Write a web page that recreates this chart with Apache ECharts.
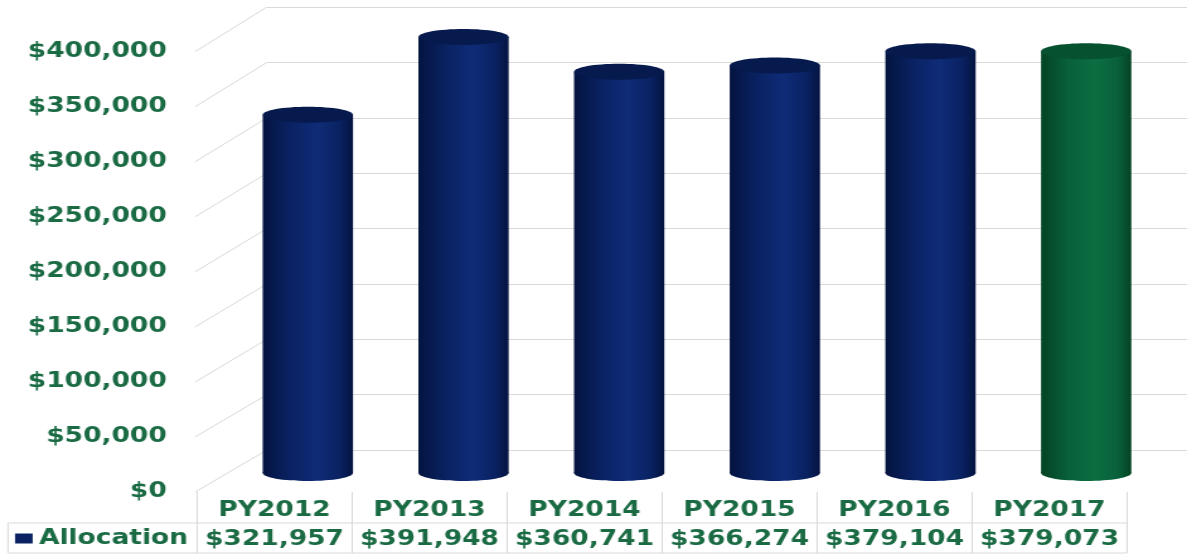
<!DOCTYPE html>
<html>
<head>
<meta charset="utf-8">
<script src="https://cdn.jsdelivr.net/npm/echarts@6/dist/echarts.min.js"></script>
<style>
html,body{margin:0;padding:0;background:#fff;overflow:hidden;}
#wrap{width:1187px;height:554px;overflow:hidden;background:#fff;}
#chart{width:942px;height:554px;transform:scaleX(1.260085);transform-origin:0 0;}
</style>
</head>
<body>
<div id="wrap"><div id="chart"></div></div>
<script>
// ---------- data ----------
const categories = ['PY2012', 'PY2013', 'PY2014', 'PY2015', 'PY2016', 'PY2017'];
const allocation = [321957, 391948, 360741, 366274, 379104, 379073];
const barColorKeys = ['navy', 'navy', 'navy', 'navy', 'navy', 'green'];
const seriesName = 'Allocation';
const yTicks = [0, 50000, 100000, 150000, 200000, 250000, 300000, 350000, 400000];

// ---------- style / layout ----------
const Y_MIN = 0, Y_MAX = 400000, Y_STEP = 50000;
const TXT = '#1a6b44';
const FONT = 'DejaVu Sans';
const FS = 21;
const LINE = '#d9d9d9';
const SX = 1187 / 942;            // horizontal stretch of the reference
const fx = x => x / SX;
const PAL = {
  navy:  {edge: '#041440', mid: '#0a2262', light: '#0f2c78', top: '#061a4e'},
  green: {edge: '#044324', mid: '#09603a', light: '#0c6e42', top: '#065230'}
};
const fmt = v => '$' + Number(v).toLocaleString('en-US');

const L = {
  back:  {left: fx(267), right: 0, top: 7, bottom: 554 - 450},
  front: {left: fx(197), right: fx(1187 - 1127), top: 51.7, bottom: 554 - 492},
  bars:  {left: fx(230), right: fx(1187 - 1164), top: 28, bottom: 554 - 473},
  table: {left: fx(8), right: fx(1187 - 1127), top: 523, height: 30}
};

const chart = echarts.init(document.getElementById('chart'), null, {renderer: 'canvas'});
const boldText = {fontFamily: FONT, fontSize: FS, fontWeight: 'bold', color: TXT};
const yBase = {type: 'value', min: Y_MIN, max: Y_MAX, interval: Y_STEP};

const option = {
  animation: false,
  backgroundColor: '#fff',
  grid: [
    Object.assign({show: false}, L.back),
    Object.assign({show: false}, L.front),
    Object.assign({show: false}, L.bars),
    Object.assign({show: true, borderColor: LINE, borderWidth: 1, backgroundColor: 'transparent'}, L.table)
  ],
  xAxis: [
    {gridIndex: 0, type: 'category', data: categories, show: false},
    {gridIndex: 1, type: 'category', data: categories, position: 'bottom',
     axisLine: {show: false},
     axisTick: {show: true, interval: 0, length: 61, lineStyle: {color: LINE, width: 1}},
     axisLabel: Object.assign({interval: 0, margin: 8}, boldText)},
    {gridIndex: 1, type: 'category', data: allocation.map(fmt), position: 'bottom', offset: 31,
     axisLine: {show: false}, axisTick: {show: false},
     axisLabel: Object.assign({interval: 0, margin: 6}, boldText)},
    {gridIndex: 2, type: 'category', data: categories, show: false},
    {gridIndex: 3, type: 'category', data: categories, show: false}
  ],
  yAxis: [
    Object.assign({gridIndex: 0, axisLine: {show: false}, axisTick: {show: false}, axisLabel: {show: false},
      splitLine: {show: true, lineStyle: {color: LINE, width: 1}}}, yBase),
    Object.assign({gridIndex: 1, axisLine: {show: false}, axisTick: {show: false}, splitLine: {show: false},
      axisLabel: Object.assign({margin: 24, formatter: fmt}, boldText)}, yBase),
    Object.assign({gridIndex: 2, show: false, splitLine: {show: false}}, yBase),
    Object.assign({gridIndex: 3, show: false, splitLine: {show: false}}, yBase)
  ],
  legend: {
    data: [seriesName], left: fx(15), top: 528, padding: 0,
    icon: 'rect', itemWidth: 14, itemHeight: 10,
    textStyle: boldText, selectedMode: false
  },
  series: [{
    name: seriesName,
    type: 'custom',
    xAxisIndex: 3, yAxisIndex: 2,
    z: 10,
    itemStyle: {color: PAL.navy.mid},
    data: allocation.map((v, i) => [i, v]),
    renderItem: function (params, api) {
      const i = api.value(0), v = api.value(1);
      const top = api.coord([i, v]);
      const base = api.coord([i, Y_MIN]);
      const band = api.size([1, 0])[0];
      const w = band * 0.58, rx = w / 2, ry = 8;
      const p = PAL[barColorKeys[i]];
      const grad = () => new echarts.graphic.LinearGradient(0, 0, 1, 0, [
        {offset: 0, color: p.edge}, {offset: 0.3, color: p.mid},
        {offset: 0.6, color: p.light}, {offset: 0.85, color: p.mid},
        {offset: 1, color: p.edge}
      ]);
      return {type: 'group', children: [
        {type: 'ellipse', shape: {cx: base[0], cy: base[1], rx: rx, ry: ry}, style: {fill: grad()}},
        {type: 'rect', shape: {x: top[0] - rx, y: top[1], width: w, height: base[1] - top[1]}, style: {fill: grad()}},
        {type: 'ellipse', shape: {cx: top[0], cy: top[1], rx: rx, ry: ry}, style: {fill: p.top}}
      ]};
    }
  }]
};
chart.setOption(option);

// perspective connectors between the front axis and the back wall, from the axes' own scales
const connectors = yTicks.map(v => {
  const yf = chart.convertToPixel({yAxisIndex: 1}, v);
  const yb = chart.convertToPixel({yAxisIndex: 0}, v);
  return {type: 'line', silent: true, z: 0,
    shape: {x1: L.front.left - 1.5, y1: yf, x2: L.back.left, y2: yb},
    style: {stroke: LINE, lineWidth: 1}};
});
chart.setOption({graphic: {elements: connectors}});
</script>
</body>
</html>
